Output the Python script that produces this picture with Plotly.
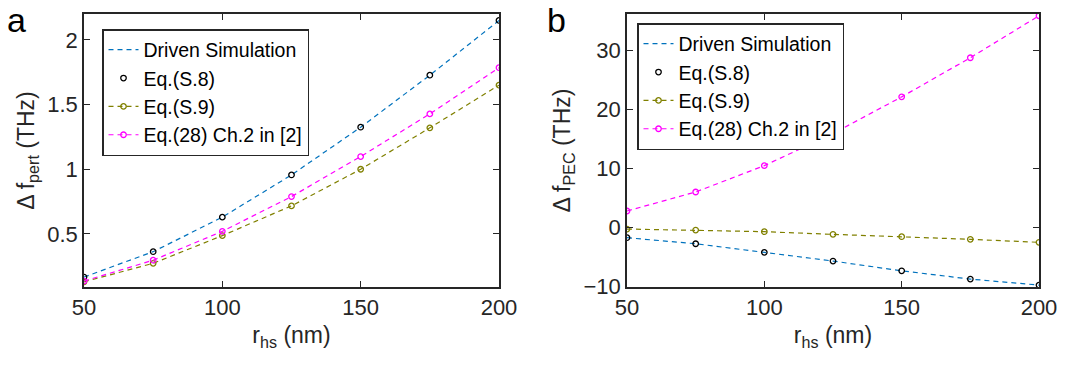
import plotly.graph_objects as go

r_hs = [50, 75, 100, 125, 150, 175, 200]

# Panel a: Δf_pert (THz)
a_driven = [0.167, 0.363, 0.630, 0.956, 1.325, 1.727, 2.150]
a_s8 = [0.167, 0.363, 0.630, 0.956, 1.325, 1.727, 2.150]
a_s9 = [0.130, 0.273, 0.487, 0.717, 1.000, 1.320, 1.650]
a_eq28 = [0.136, 0.297, 0.520, 0.789, 1.098, 1.428, 1.785]

# Panel b: Δf_PEC (THz)
b_driven = [-1.76, -2.78, -4.24, -5.71, -7.36, -8.76, -9.78]
b_s8 = [-1.76, -2.78, -4.24, -5.71, -7.36, -8.76, -9.78]
b_s9 = [-0.29, -0.46, -0.74, -1.19, -1.59, -2.03, -2.54]
b_eq28 = [2.76, 5.98, 10.44, 15.87, 22.08, 28.70, 35.80]

names = ["Driven Simulation", "Eq.(S.8)", "Eq.(S.9)", "Eq.(28) Ch.2 in [2]"]
BLUE = "#0072BD"
OLIVE = "#808000"
MAG = "#FF00FF"
FONT = "Liberation Sans"
AX = "#262626"

fig = go.Figure()

def add_panel(xa, ya, leg, driven, s8, s9, eq28):
    fig.add_trace(go.Scatter(x=r_hs, y=driven, mode="lines", name=names[0],
                             line=dict(color=BLUE, width=1.2, dash="5px,4px"),
                             xaxis=xa, yaxis=ya, legend=leg))
    fig.add_trace(go.Scatter(x=r_hs, y=s8, mode="markers", name=names[1],
                             marker=dict(symbol="circle-open", size=5.5, color="black",
                                         line=dict(width=1.3)),
                             xaxis=xa, yaxis=ya, legend=leg))
    fig.add_trace(go.Scatter(x=r_hs, y=s9, mode="lines+markers", name=names[2],
                             line=dict(color=OLIVE, width=1.2, dash="5px,4px"),
                             marker=dict(symbol="circle-open", size=5.5, color=OLIVE,
                                         line=dict(width=1.3)),
                             xaxis=xa, yaxis=ya, legend=leg))
    fig.add_trace(go.Scatter(x=r_hs, y=eq28, mode="lines+markers", name=names[3],
                             line=dict(color=MAG, width=1.2, dash="5px,4px"),
                             marker=dict(symbol="circle-open", size=5.5, color=MAG,
                                         line=dict(width=1.3)),
                             xaxis=xa, yaxis=ya, legend=leg))

add_panel("x", "y", "legend", a_driven, a_s8, a_s9, a_eq28)
add_panel("x2", "y2", "legend2", b_driven, b_s8, b_s9, b_eq28)

W, H = 1084, 368
ydom = [(H - 287) / H, (H - 14) / H]

axis_common = dict(showline=True, linecolor=AX, linewidth=1.5, mirror="ticks",
                   ticks="inside", ticklen=6, tickwidth=1.2, tickcolor=AX,
                   showgrid=False, zeroline=False, automargin=False,
                   tickfont=dict(family=FONT, size=22, color=AX),
                   title_font=dict(family=FONT, size=23, color=AX))

leg_common = dict(xanchor="left", yanchor="top", bordercolor=AX, borderwidth=1.5,
                  bgcolor="white", font=dict(family=FONT, size=19.5, color="black"),
                  itemwidth=30, tracegroupgap=0)

fig.update_layout(
    width=W, height=H,
    margin=dict(l=0, r=0, t=0, b=0, autoexpand=False),
    plot_bgcolor="white", paper_bgcolor="white",
    font=dict(family=FONT, color=AX),
    xaxis=dict(domain=[84 / W, 499 / W], range=[50, 200], tickvals=[50, 100, 150, 200],
               title=dict(text="r<sub>hs</sub> (nm)", standoff=8), anchor="y", **axis_common),
    yaxis=dict(domain=ydom, range=[0.09, 2.2], tickvals=[0.5, 1, 1.5, 2],
               ticktext=["0.5", "1", "1.5", "2"],
               title=dict(text="Δ f<sub>pert</sub> (THz)", standoff=6), anchor="x", **axis_common),
    xaxis2=dict(domain=[627 / W, 1039 / W], range=[50, 200], tickvals=[50, 100, 150, 200],
                title=dict(text="r<sub>hs</sub> (nm)", standoff=8), anchor="y2", **axis_common),
    yaxis2=dict(domain=ydom, range=[-10.1, 36.1], tickvals=[-10, 0, 10, 20, 30],
                title=dict(text="Δ f<sub>PEC</sub> (THz)", standoff=6), anchor="x2", **axis_common),
    legend=dict(x=102 / W, y=1 - 29 / H, **leg_common),
    legend2=dict(x=637 / W, y=1 - 23 / H, **leg_common),
    annotations=[
        dict(text="a", x=5 / W, y=1.0, xref="paper", yref="paper", xanchor="left",
             yanchor="top", yshift=1, showarrow=False,
             font=dict(family=FONT, size=34, color="black")),
        dict(text="b", x=545 / W, y=1.0, xref="paper", yref="paper", xanchor="left",
             yanchor="top", yshift=1, showarrow=False,
             font=dict(family=FONT, size=34, color="black")),
    ],
)

fig.write_html("out.html", config={"displayModeBar": False},
               post_script="document.body.style.margin='0';")
